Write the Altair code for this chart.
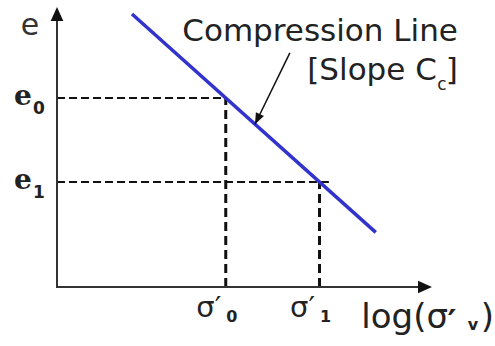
import altair as alt
import pandas as pd

# ---- schematic values (x: log σ', y: void ratio e) ----
state_index = ["0", "1"]
log_sigma = [4.5, 7.0]
void_ratio = [6.75, 3.75]
e_guide_end = [4.5, 7.25]
line_log_sigma = [2.0, 8.5]
line_e = [9.75, 1.95]
axis_x_end = [9.6, 10.0]
axis_y_end = [9.5, 10.0]
arrow_from = [6.21, 8.36]
arrow_to = [5.28, 5.814]

xs = alt.Scale(domain=[-1.52, 11.68], nice=False, zero=False)
ys = alt.Scale(domain=[-2.107, 10.25], nice=False, zero=False)


def X(f):
    return alt.X(f, type="quantitative", scale=xs, axis=None)


def Y(f):
    return alt.Y(f, type="quantitative", scale=ys, axis=None)


SANS = "DejaVu Sans"
SERIF = "DejaVu Serif"
INK = "#222222"

pts = pd.DataFrame({
    "sigma": log_sigma,
    "e": void_ratio,
    "hend": e_guide_end,
    "zero": [0.0, 0.0],
    "idx": state_index,
    "sig": ["σ′", "σ′"],
    "elab": ["e", "e"],
})

axes_df = pd.DataFrame({
    "x": [0.0, 0.0], "y": [0.0, 0.0],
    "x2": [0.0, axis_x_end[0]], "y2": [axis_y_end[0], 0.0],
})
axes = alt.Chart(axes_df).mark_rule(color="#333333", strokeWidth=2, strokeCap="square").encode(
    x=X("x"), y=Y("y"), x2="x2", y2="y2")

heads_df = pd.DataFrame({"x": [0.0, axis_x_end[1]], "y": [axis_y_end[1], 0.0], "ang": [0, 90]})
heads = alt.Chart(heads_df).mark_point(
    shape="M0,0L-0.45,1L0.45,1Z", filled=True, size=784, color="#111111", opacity=1, strokeWidth=0
).encode(x=X("x"), y=Y("y"), angle=alt.Angle("ang:Q", scale=None))

hguides = alt.Chart(pts).mark_rule(color="#111111", strokeWidth=2, strokeDash=[8, 4]).encode(
    x=X("zero"), x2="hend", y=Y("e"))
vguides = alt.Chart(pts).mark_rule(color="#111111", strokeWidth=3, strokeDash=[9, 5]).encode(
    x=X("sigma"), y=Y("zero"), y2="e")

line_df = pd.DataFrame({"x": line_log_sigma, "y": line_e})
comp = alt.Chart(line_df).mark_line(color="#3232cc", strokeWidth=3.5).encode(x=X("x"), y=Y("y"))

arr_df = pd.DataFrame({"x": [arrow_from[0]], "y": [arrow_from[1]], "x2": [arrow_to[0]], "y2": [arrow_to[1]], "ang": [206]})
arr = alt.Chart(arr_df).mark_rule(color="#111111", strokeWidth=1.5).encode(
    x=X("x"), y=Y("y"), x2="x2", y2="y2")
arr_head = alt.Chart(arr_df).mark_point(
    shape="M0,0L-0.4,1L0.4,1Z", filled=True, size=500, color="#111111", opacity=1, strokeWidth=0
).encode(x=X("x2"), y=Y("y2"), angle=alt.Angle("ang:Q", scale=None))

# text
sig_main = alt.Chart(pts).mark_text(font=SANS, fontSize=29, color=INK, align="center", baseline="alphabetic",
                                    dx=-17, dy=30).encode(x=X("sigma"), y=Y("zero"), text="sig:N")
sig_sub = alt.Chart(pts).mark_text(font=SANS, fontSize=16, fontWeight="bold", color=INK, align="center",
                                   baseline="alphabetic", dx=6, dy=35).encode(x=X("sigma"), y=Y("zero"), text="idx:N")
e_main = alt.Chart(pts).mark_text(font=SERIF, fontSize=28, fontWeight="bold", color=INK, align="center",
                                  baseline="alphabetic", dx=-34, dy=7).encode(x=X("zero"), y=Y("e"), text="elab:N")
e_sub = alt.Chart(pts).mark_text(font=SANS, fontSize=17, fontWeight="bold", color=INK, align="center",
                                 baseline="alphabetic", dx=-18, dy=16).encode(x=X("zero"), y=Y("e"), text="idx:N")

ax_lab = pd.DataFrame({"x": [0.0], "y": [axis_y_end[1]], "xe": [axis_x_end[1]], "ye": [0.0],
                       "t": ["e"], "log": ["log(σ"], "pr": ["′"], "v": ["v"], "p": [")"]})
e_axis = alt.Chart(ax_lab).mark_text(font=SANS, fontSize=30, color="#333333", align="center",
                                     baseline="alphabetic", dx=-27, dy=28).encode(x=X("x"), y=Y("y"), text="t:N")
log_main = alt.Chart(ax_lab).mark_text(font=SANS, fontSize=34, color=INK, align="right",
                                       baseline="alphabetic", dx=16, dy=41).encode(x=X("xe"), y=Y("ye"), text="log:N")
log_pr = alt.Chart(ax_lab).mark_text(font=SANS, fontSize=34, fontWeight="bold", color=INK, align="center",
                                     baseline="alphabetic", dx=20, dy=47).encode(x=X("xe"), y=Y("ye"), text="pr:N")
log_v = alt.Chart(ax_lab).mark_text(font=SANS, fontSize=16, fontWeight="bold", color=INK, align="center",
                                    baseline="alphabetic", dx=41, dy=43).encode(x=X("xe"), y=Y("ye"), text="v:N")
log_p = alt.Chart(ax_lab).mark_text(font=SANS, fontSize=34, color=INK, align="right",
                                    baseline="alphabetic", dx=62, dy=41).encode(x=X("xe"), y=Y("ye"), text="p:N")

ann = pd.DataFrame({"x": [arrow_from[0]], "y": [arrow_from[1]],
                    "l1": ["Compression Line"], "l2": ["[Slope C"], "c": ["c"], "b": ["]"]})
ann1 = alt.Chart(ann).mark_text(font=SANS, fontSize=31, color=INK, align="right", baseline="alphabetic",
                                dx=168, dy=-12).encode(x=X("x"), y=Y("y"), text="l1:N")
ann2 = alt.Chart(ann).mark_text(font=SANS, fontSize=31, color=INK, align="right", baseline="alphabetic",
                                dx=147, dy=27).encode(x=X("x"), y=Y("y"), text="l2:N")
ann3 = alt.Chart(ann).mark_text(font=SANS, fontSize=17, color=INK, align="center", baseline="alphabetic",
                                dx=152, dy=37).encode(x=X("x"), y=Y("y"), text="c:N")
ann4 = alt.Chart(ann).mark_text(font=SANS, fontSize=31, color=INK, align="right", baseline="alphabetic",
                                dx=168, dy=27).encode(x=X("x"), y=Y("y"), text="b:N")

chart = alt.layer(
    hguides, vguides, axes, heads, comp, arr, arr_head,
    sig_main, sig_sub, e_main, e_sub, e_axis, log_main, log_pr, log_v, log_p,
    ann1, ann2, ann3, ann4,
).properties(width=495, height=346, autosize=alt.AutoSizeParams(type="none"), padding=0,
             background="white").configure_view(stroke=None)

chart.save("out.html", embed_options={"renderer": "svg", "actions": False})
